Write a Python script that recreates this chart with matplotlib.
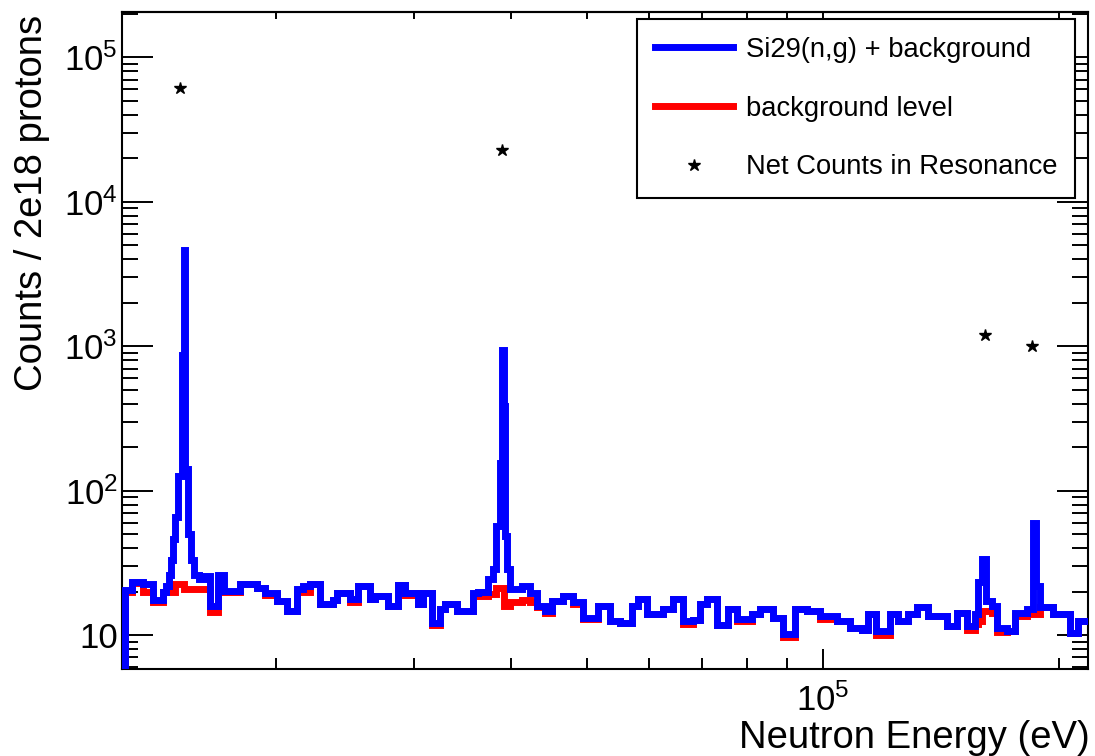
import math
import matplotlib
matplotlib.use("Agg")
import matplotlib.pyplot as plt
from matplotlib.lines import Line2D
from matplotlib.ticker import LogLocator, NullFormatter, FuncFormatter

plt.rcParams['font.family'] = ['Liberation Sans', 'DejaVu Sans']
plt.rcParams['mathtext.fontset'] = 'custom'
plt.rcParams['mathtext.rm'] = 'Liberation Sans'

# ---------------- data ----------------
energy_edges = [
    12844, 13104, 13535, 13939, 14355, 14482, 14611, 14697, 14783, 14870,
    15002, 15200, 15283, 15337, 15450, 15587, 15725, 15957, 16194, 16482,
    16874, 17174, 18002, 18925, 19375, 20071, 20670, 21294, 21674, 22125,
    22785, 23673, 23953, 24887, 25479, 26394, 26785, 27829, 28659, 29255,
    29952, 30395, 30845, 31672, 32425, 32906, 34087, 35728, 36257, 37340,
    37893, 38263, 38700, 38909, 39081, 39255, 39486, 39836, 41267, 42249,
    43128, 44154, 45073, 46553, 47942, 49372, 51598, 53451, 55047, 57023,
    58038, 59596, 62465, 64329, 66249, 68225, 69644, 71094, 73217, 75624,
    77653, 81158, 83089, 86326, 88900, 92092, 95406, 99122, 104200, 108260,
    112150, 114150, 116870, 121780, 124680, 128400, 131850, 136180, 143990, 148290,
    152710, 156350, 157730, 159600, 161480, 164360, 166800, 171780, 175870, 182180,
    185430, 187070, 189280, 196670, 206750, 211670, 222520,
]

signal_plus_background = [
    20.5, 23.3, 22.4, 17.6, 19.8, 22.0, 26.0, 33.0, 46.0, 66.0,
    126.0, 870.0, 4600.0, 140.0, 50.0, 33.0, 26.0, 24.4, 25.8, 15.8,
    26.0, 20.3, 22.4, 21.3, 19.6, 17.2, 14.7, 20.7, 21.8, 22.7,
    16.3, 17.6, 19.6, 17.8, 22.0, 17.7, 18.6, 15.9, 22.1, 19.6,
    19.6, 16.3, 19.6, 12.2, 15.1, 16.3, 14.7, 19.6, 19.7, 24.3,
    28.5, 56.7, 156.0, 946.0, 384.0, 48.4, 28.5, 20.7, 21.8, 19.6,
    15.9, 14.7, 17.2, 18.6, 16.8, 13.2, 15.9, 12.5, 12.2, 15.9,
    17.7, 13.9, 15.1, 17.7, 12.5, 12.7, 16.3, 17.7, 11.8, 15.1,
    12.8, 13.9, 15.1, 13.2, 10.1, 15.1, 14.7, 13.5, 12.5, 11.2,
    10.9, 13.9, 10.6, 13.9, 12.5, 13.9, 15.5, 13.5, 11.6, 14.3,
    11.6, 14.0, 23.2, 33.4, 17.2, 15.9, 11.2, 10.7, 14.3, 15.1,
    59.9, 21.8, 15.5, 13.9, 10.4, 12.5,
]

background_level = [
    20.0, 22.8, 20.0, 16.8, 19.7, 19.7, 19.7, 19.7, 19.7, 22.4,
    22.4, 22.4, 20.7, 20.7, 20.7, 20.7, 20.7, 20.7, 20.7, 14.5,
    20.0, 19.8, 22.4, 21.3, 18.8, 17.2, 14.7, 19.7, 20.0, 22.7,
    16.3, 17.6, 19.6, 17.0, 22.0, 17.7, 18.6, 15.9, 22.1, 19.0,
    19.6, 16.3, 19.6, 11.8, 15.1, 16.3, 14.7, 18.5, 18.6, 19.2,
    19.2, 21.0, 21.3, 21.3, 15.9, 15.9, 15.9, 16.8, 17.6, 17.0,
    15.5, 14.1, 17.2, 18.6, 16.3, 12.8, 15.9, 12.5, 12.2, 15.9,
    17.7, 13.9, 15.1, 17.7, 11.9, 12.7, 16.3, 17.7, 11.8, 15.1,
    12.4, 13.9, 15.1, 13.2, 9.7, 15.1, 14.7, 12.8, 12.5, 11.2,
    10.9, 13.9, 10.0, 13.9, 12.5, 13.9, 15.5, 13.5, 11.6, 14.3,
    10.9, 12.0, 12.5, 14.7, 14.7, 14.3, 10.5, 10.7, 13.5, 13.9,
    13.9, 13.9, 15.5, 13.9, 10.4, 12.5,
]

resonance_energy = [15100, 38900, 161000, 185000]
resonance_net_counts = [61400, 22900, 1200, 1010]

series_labels = ["Si29(n,g) + background", "background level", "Net Counts in Resonance"]
x_title = "Neutron Energy (eV)"
y_title = "Counts / 2e18 protons"

# ---------------- figure ----------------
W, H = 1095, 756
fig = plt.figure(figsize=(W / 100, H / 100), dpi=100)
ax = fig.add_axes([122 / W, 1 - 668.5 / H, (1088 - 122) / W, (668.5 - 11.7) / H])
ax.set_xscale('log')
ax.set_yscale('log')

lw = 5.0
ax.stairs(background_level, energy_edges, baseline=1.0, color='#ff0000',
          linewidth=lw, joinstyle='miter', capstyle='butt', zorder=2)
ax.stairs(signal_plus_background, energy_edges, baseline=1.0, color='#0000ff',
          linewidth=lw, joinstyle='miter', capstyle='butt', zorder=3)
ax.plot(resonance_energy, resonance_net_counts, linestyle='none', marker='*',
        color='black', markersize=9, zorder=4)

ax.set_xlim(12727, 218000)
ax.set_ylim(5.86, 2.07e5)

for s in ax.spines.values():
    s.set_linewidth(1.5)

# ticks
ax.xaxis.set_major_locator(LogLocator(base=10))
ax.xaxis.set_minor_locator(LogLocator(base=10, subs=range(2, 10)))
ax.yaxis.set_major_locator(LogLocator(base=10))
ax.yaxis.set_minor_locator(LogLocator(base=10, subs=range(2, 10)))


def pow_fmt(v, pos):
    e = int(round(math.log10(v)))
    if e == 1:
        return '10'
    return r'$\mathregular{10^{%d}}$' % e


ax.xaxis.set_major_formatter(FuncFormatter(pow_fmt))
ax.yaxis.set_major_formatter(FuncFormatter(pow_fmt))
ax.xaxis.set_minor_formatter(NullFormatter())
ax.yaxis.set_minor_formatter(NullFormatter())

ax.tick_params(axis='y', which='major', direction='in', length=22, width=1.4,
               left=True, right=True, labelsize=25, pad=3)
ax.tick_params(axis='y', which='minor', direction='in', length=11.5, width=1.4,
               left=True, right=True)
ax.tick_params(axis='x', which='major', direction='in', length=14.5, width=1.4,
               top=False, labelsize=25, pad=11)
ax.tick_params(axis='x', which='minor', direction='in', length=8, width=1.4,
               top=False)

sec = ax.secondary_xaxis('top')
sec.set_xscale('log')
sec.xaxis.set_major_locator(LogLocator(base=10))
sec.xaxis.set_minor_locator(LogLocator(base=10, subs=range(2, 10)))
sec.xaxis.set_major_formatter(NullFormatter())
sec.xaxis.set_minor_formatter(NullFormatter())
sec.tick_params(which='both', direction='in', length=5, width=1.4)
sec.spines['top'].set_linewidth(1.5)

ax.set_xlabel(x_title, fontsize=27.5, loc='right')
ax.xaxis.set_label_coords(1.0 + 2 / 966, -0.079)
ax.set_ylabel(y_title, fontsize=27.5, loc='top')
ax.yaxis.set_label_coords(-0.0745, 0.995)

handles = [
    Line2D([], [], color='#0000ff', linewidth=lw),
    Line2D([], [], color='#ff0000', linewidth=lw),
    Line2D([], [], color='black', linestyle='none', marker='*', markersize=9),
]
leg = ax.legend(handles, series_labels, loc='upper left',
                bbox_to_anchor=(637 / W, 1 - 19 / H, (1075 - 637) / W, 0.0),
                bbox_transform=fig.transFigure, mode='expand',
                fontsize=19.7, handlelength=2.85, handletextpad=0.5,
                labelspacing=1.2, borderpad=0.65, borderaxespad=0,
                fancybox=False, framealpha=1, edgecolor='black')
leg.get_frame().set_linewidth(1.5)

fig.savefig('out.png', dpi=100)
